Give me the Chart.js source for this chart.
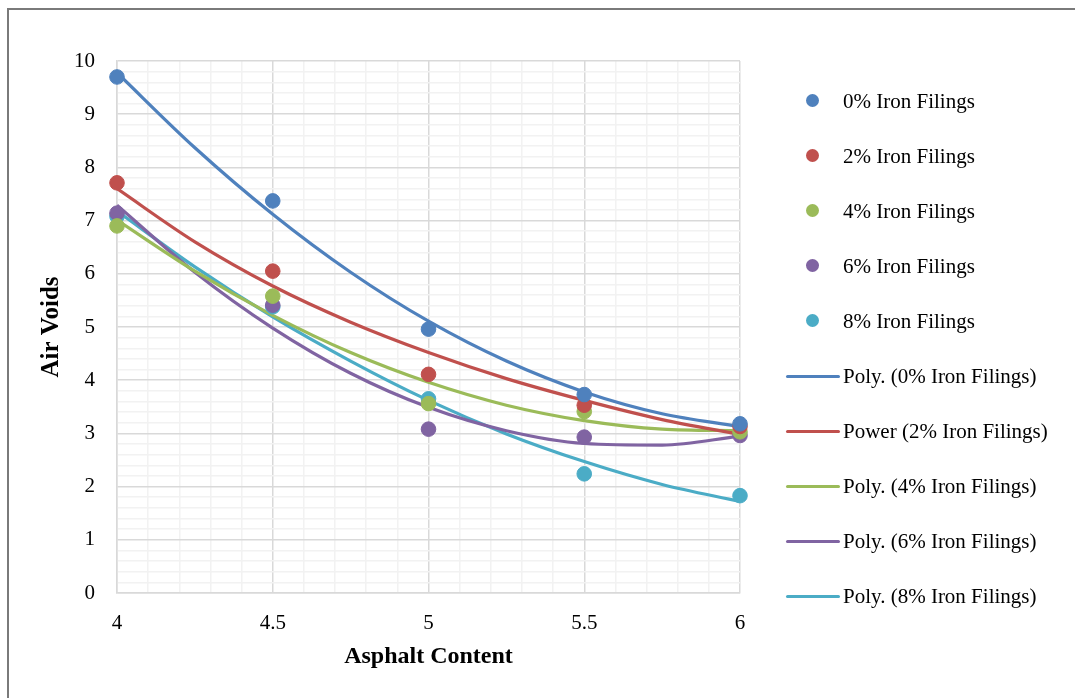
<!DOCTYPE html>
<html>
<head>
<meta charset="utf-8">
<script src="https://cdn.jsdelivr.net/npm/chart.js@4.4.1/dist/chart.umd.min.js"></script>
<style>
  body { margin: 0; background: #fff; }
  #wrap { position: relative; width: 1075px; height: 698px; overflow: hidden; }
  #frame { position: absolute; left: 7px; top: 8px; width: 1200px; height: 800px;
           border-top: 2px solid #7a7a7a; border-left: 2px solid #7a7a7a; pointer-events: none; }
  #legend { position: absolute; left: 0; top: 0; font-family: 'Liberation Serif', 'Times New Roman', serif;
            font-size: 21px; color: #000; }
  .item { position: absolute; left: 786px; height: 30px; display: flex; align-items: center; white-space: nowrap; }
  .mark { width: 54px; height: 30px; position: relative; }
  .dot { position: absolute; left: 20px; top: 8px; width: 13px; height: 13px; border-radius: 50%; }
  .line { position: absolute; left: 0; top: 14px; width: 54px; height: 3px; border-radius: 2px; }
  .label { margin-left: 3px; }
</style>
</head>
<body>
<div id="wrap">
  <canvas id="chart" width="1075" height="698"></canvas>
  <div id="frame"></div>
  <div id="legend"></div>
</div>
<script>
// measured points (asphalt content vs air voids)
const asphaltContent = [4, 4.5, 5, 5.5, 6];
const voids0 = [9.70, 7.37, 4.96, 3.73, 3.18];
const voids2 = [7.71, 6.05, 4.11, 3.53, 3.13];
const voids4 = [6.90, 5.58, 3.56, 3.41, 3.03];
const voids6 = [7.14, 5.41, 3.08, 2.93, 2.96];
const voids8 = [7.08, 5.38, 3.65, 2.24, 1.83];

// trendlines
const trendX = [4, 4.25, 4.5, 4.75, 5, 5.25, 5.5, 5.75, 6];
const trend0 = [9.78, 8.37, 7.12, 6.03, 5.11, 4.36, 3.78, 3.37, 3.13];
const trend2 = [7.60, 6.60, 5.77, 5.09, 4.52, 4.03, 3.62, 3.26, 2.98];
const trend4 = [7.01, 6.05, 5.22, 4.52, 3.96, 3.53, 3.24, 3.08, 3.05];
const trend6 = [7.29, 6.03, 4.98, 4.13, 3.49, 3.05, 2.81, 2.78, 2.95];
const trend8 = [7.18, 6.13, 5.19, 4.36, 3.62, 2.99, 2.47, 2.04, 1.72];

const seriesNames = ['0% Iron Filings', '2% Iron Filings', '4% Iron Filings', '6% Iron Filings', '8% Iron Filings'];
const trendNames = ['Poly. (0% Iron Filings)', 'Power (2% Iron Filings)', 'Poly. (4% Iron Filings)',
                    'Poly. (6% Iron Filings)', 'Poly. (8% Iron Filings)'];
const colors = ['#4F81BD', '#C0504D', '#9BBB59', '#8064A2', '#4BACC6'];

const pointSets = [voids0, voids2, voids4, voids6, voids8];
const trendSets = [trend0, trend2, trend4, trend6, trend8];

const toXY = (xs, ys) => xs.map((x, i) => ({ x: x, y: ys[i] }));

const datasets = [];
trendSets.forEach((t, i) => {
  datasets.push({
    type: 'line',
    label: trendNames[i],
    data: toXY(trendX, t),
    borderColor: colors[i],
    borderWidth: 3.2,
    pointRadius: 0,
    fill: false,
    cubicInterpolationMode: 'monotone',
    order: 1
  });
});
pointSets.forEach((p, i) => {
  datasets.push({
    type: 'scatter',
    label: seriesNames[i],
    data: toXY(asphaltContent, p),
    backgroundColor: colors[i],
    borderColor: colors[i],
    pointRadius: 7.3,
    pointHoverRadius: 7.3,
    clip: false,
    order: 0
  });
});

const isMajorX = v => Math.abs(v * 2 - Math.round(v * 2)) < 1e-6;
const isMajorY = v => Math.abs(v - Math.round(v)) < 1e-6;
const serif = "'Liberation Serif', 'Times New Roman', serif";
const tickFont = { family: serif, size: 21 };

new Chart(document.getElementById('chart'), {
  type: 'scatter',
  data: { datasets: datasets },
  options: {
    responsive: false,
    devicePixelRatio: 1,
    animation: false,
    events: [],
    layout: { padding: { top: 61, right: 335, bottom: 0, left: 0 } },
    plugins: { legend: { display: false }, tooltip: { enabled: false } },
    scales: {
      x: {
        type: 'linear',
        min: 4, max: 6,
        afterFit: s => { s.height = 105; },
        ticks: {
          stepSize: 0.1, autoSkip: false, maxRotation: 0, padding: 18,
          color: '#000', font: tickFont,
          callback: v => isMajorX(v) ? String(Math.round(v * 10) / 10) : ''
        },
        grid: {
          drawTicks: false, lineWidth: 1.5,
          color: c => isMajorX(c.tick.value) ? '#d9d9d9' : '#f2f2f2'
        },
        border: { color: '#d9d9d9', width: 1.5 },
        title: { display: true, text: 'Asphalt Content', color: '#000',
                 font: { family: serif, size: 24, weight: 'bold' }, padding: { bottom: 27 } }
      },
      y: {
        type: 'linear',
        min: 0, max: 10,
        afterFit: s => { s.width = 117; },
        ticks: {
          stepSize: 0.2, autoSkip: false, padding: 22,
          color: '#000', font: tickFont,
          callback: v => isMajorY(v) ? String(Math.round(v)) : ''
        },
        grid: {
          drawTicks: false, lineWidth: 1.5,
          color: c => isMajorY(c.tick.value) ? '#d9d9d9' : '#f2f2f2'
        },
        border: { color: '#d9d9d9', width: 1.5 },
        title: { display: true, text: 'Air Voids', color: '#000',
                 font: { family: serif, size: 25, weight: 'bold' }, padding: { top: 37 } }
      }
    }
  }
});

// legend on the right
const legend = document.getElementById('legend');
const legendItems = seriesNames.map((n, i) => ({ text: n, color: colors[i], kind: 'dot' }))
  .concat(trendNames.map((n, i) => ({ text: n, color: colors[i], kind: 'line' })));
legendItems.forEach((it, i) => {
  const row = document.createElement('div');
  row.className = 'item';
  row.style.top = (101 + 55 * i - 15) + 'px';
  row.innerHTML = `<div class="mark"><div class="${it.kind}" style="background:${it.color}"></div></div>` +
                  `<span class="label">${it.text}</span>`;
  legend.appendChild(row);
});
</script>
</body>
</html>
